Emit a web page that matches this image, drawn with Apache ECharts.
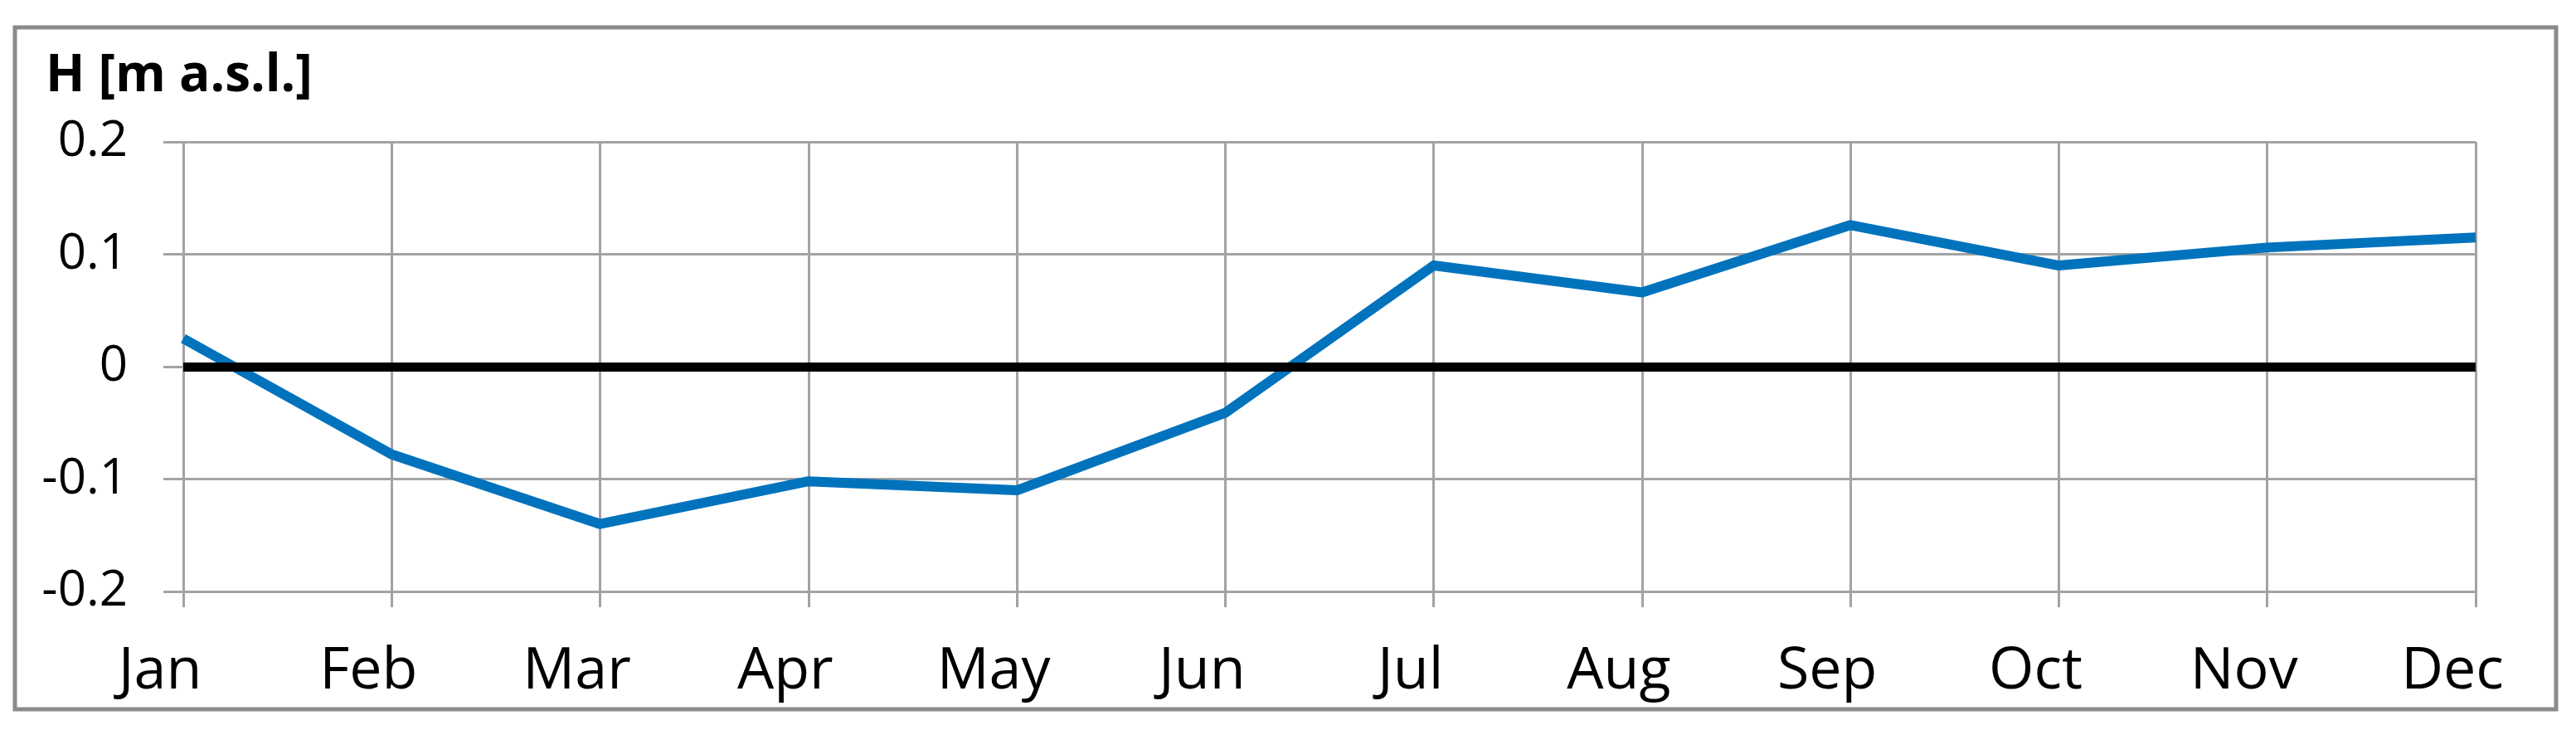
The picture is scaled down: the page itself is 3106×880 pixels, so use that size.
<!DOCTYPE html>
<html>
<head>
<meta charset="utf-8">
<script src="https://cdn.jsdelivr.net/npm/echarts@6/dist/echarts.min.js"></script>
<style>
html,body{margin:0;padding:0;background:#fff;}
#chart{width:3106px;height:880px;}
</style>
</head>
<body>
<div id="chart"></div>
<script>
const months = ['Jan','Feb','Mar','Apr','May','Jun','Jul','Aug','Sep','Oct','Nov','Dec'];
const levels = [0.025, -0.078, -0.140, -0.102, -0.110, -0.041, 0.090, 0.066, 0.126, 0.090, 0.106, 0.115];
const yTicks = ['-0.2', '-0.1', '0', '0.1', '0.2'];
const yTitle = 'H [m a.s.l.]';

const FONT = '"Open Sans", "Noto Sans", sans-serif';
const chart = echarts.init(document.getElementById('chart'), null, {renderer: 'canvas'});
chart.setOption({
  backgroundColor: '#ffffff',
  animation: false,
  title: {
    text: yTitle,
    left: 50,
    top: 56,
    textStyle: {fontFamily: FONT, fontSize: 62, fontWeight: 'bold', color: '#000'}
  },
  graphic: [{
    type: 'rect',
    shape: {x: 18, y: 33, width: 3064, height: 822},
    style: {fill: null, stroke: '#8a8a8a', lineWidth: 5},
    silent: true,
    z: -1
  }],
  grid: {left: 221, right: 121, top: 171, bottom: 167, containLabel: false},
  xAxis: {
    type: 'category',
    data: months,
    boundaryGap: false,
    axisLine: {show: false, onZero: false},
    axisTick: {show: true, length: 19, lineStyle: {color: '#a3a3a3', width: 3}},
    splitLine: {show: true, lineStyle: {color: '#a3a3a3', width: 3}},
    axisLabel: {
      fontFamily: FONT, fontSize: 70, color: '#000', margin: 62,
      padding: [0, 56, 0, 0], interval: 0
    }
  },
  yAxis: {
    type: 'value',
    min: -0.2, max: 0.2, interval: 0.1,
    axisLine: {show: false},
    axisTick: {show: true, length: 24, lineStyle: {color: '#a3a3a3', width: 3}},
    splitLine: {show: true, lineStyle: {color: '#a3a3a3', width: 3}},
    axisLabel: {
      fontFamily: FONT, fontSize: 60, color: '#000', margin: 67,
      formatter: function (v) {
        const idx = Math.round((v + 0.2) / 0.1);
        return yTicks[idx];
      }
    }
  },
  series: [{
    type: 'line',
    data: levels,
    symbol: 'none',
    lineStyle: {color: '#0173BD', width: 12, join: 'round'},
    z: 3,
    markLine: {
      silent: true,
      symbol: 'none',
      label: {show: false},
      lineStyle: {color: '#000', width: 11, type: 'solid'},
      data: [{yAxis: 0}],
      z: 4
    }
  }]
});
</script>
</body>
</html>
